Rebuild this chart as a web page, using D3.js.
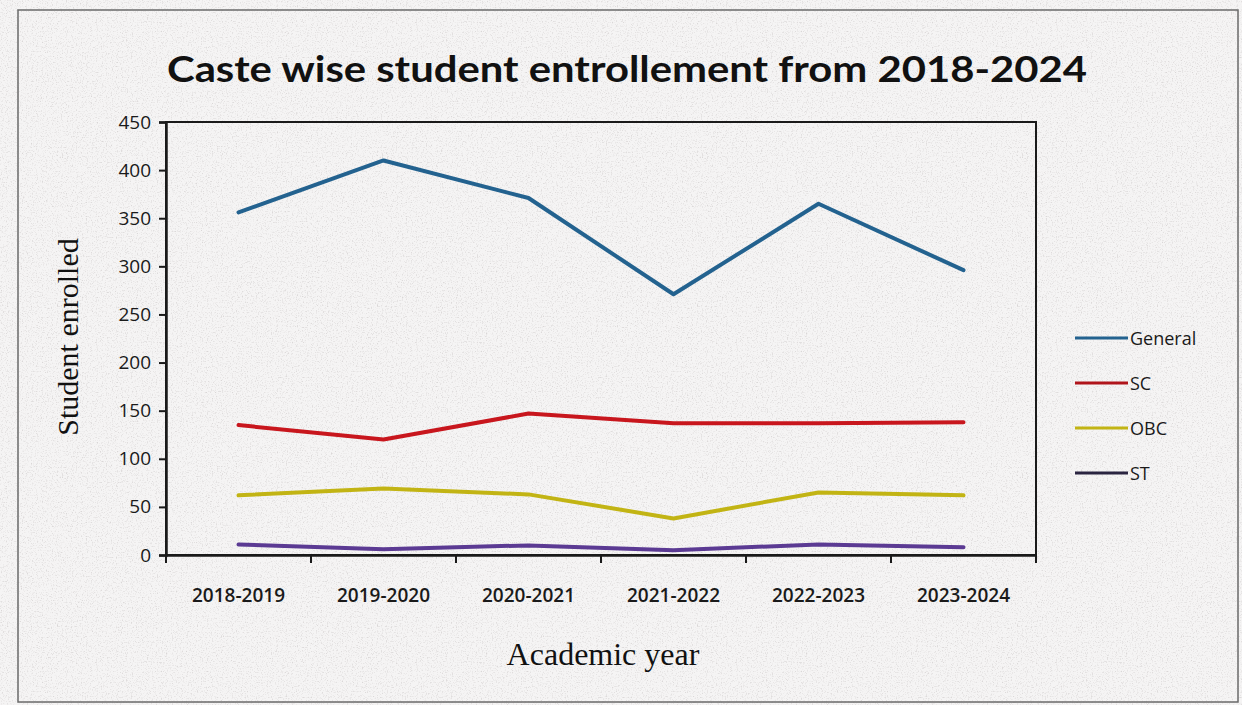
<!DOCTYPE html>
<html>
<head>
<meta charset="utf-8">
<script src="https://cdn.jsdelivr.net/npm/d3@7"></script>
<style>
  html, body { margin: 0; padding: 0; background: #f4f3f3; }
  svg { display: block; }
</style>
</head>
<body>
<svg id="chart" width="1242" height="705"></svg>
<script>
// Academic years on the x axis
const years = ["2018-2019", "2019-2020", "2020-2021", "2021-2022", "2022-2023", "2023-2024"];

// Enrolment per caste category
const general = [356, 410, 371, 271, 365, 296];
const sc      = [135, 120, 147, 137, 137, 138];
const obc     = [62, 69, 63, 38, 65, 62];
const st      = [11, 6, 10, 5, 11, 8];

const seriesNames = ["General", "SC", "OBC", "ST"];
const yTicks = [0, 50, 100, 150, 200, 250, 300, 350, 400, 450];

const series = [
  { name: seriesNames[0], values: general, color: "#23628f" },
  { name: seriesNames[1], values: sc,      color: "#c8161d" },
  { name: seriesNames[2], values: obc,     color: "#c2b414" },
  { name: seriesNames[3], values: st,      color: "#5b3a93" }
];

const svg = d3.select("#chart");
const W = 1242, H = 705;

// paper grain
const defs = svg.append("defs");
const f = defs.append("filter").attr("id", "grain").attr("x", 0).attr("y", 0).attr("width", "100%").attr("height", "100%");
f.append("feTurbulence").attr("type", "fractalNoise").attr("baseFrequency", 0.8).attr("numOctaves", 2).attr("seed", 4).attr("result", "n");
f.append("feColorMatrix").attr("in", "n").attr("type", "matrix")
  .attr("values", "0 0 0 0 0.45  0 0 0 0 0.42  0 0 0 0 0.42  0 0 0 -3 1.45");

svg.append("rect").attr("width", W).attr("height", H).attr("fill", "#f5f4f4");
svg.append("rect").attr("width", W).attr("height", H).attr("filter", "url(#grain)").attr("opacity", 0.4);

// outer chart frame
svg.append("rect")
  .attr("x", 18).attr("y", 10).attr("width", 1220).attr("height", 692)
  .attr("fill", "none").attr("stroke", "#6a6a6a").attr("stroke-width", 1.5);

const plot = { left: 166, right: 1036, top: 122, bottom: 555 };

const x = d3.scaleBand().domain(years).range([plot.left, plot.right]);
const y = d3.scaleLinear().domain([0, 450]).range([plot.bottom, plot.top]);

// plot box
svg.append("rect")
  .attr("x", plot.left).attr("y", plot.top)
  .attr("width", plot.right - plot.left).attr("height", plot.bottom - plot.top)
  .attr("fill", "none").attr("stroke", "#1a1a1a").attr("stroke-width", 2);

// y axis
const yAxis = svg.append("g")
  .attr("transform", `translate(${plot.left},0)`)
  .call(d3.axisLeft(y).tickValues(yTicks).tickSize(7).tickPadding(8));
yAxis.select(".domain").attr("stroke", "#1a1a1a").attr("stroke-width", 2.5);
yAxis.selectAll(".tick line").attr("stroke", "#1a1a1a").attr("stroke-width", 2);
yAxis.selectAll("text")
  .attr("font-family", "'Open Sans', sans-serif").attr("font-size", 19).attr("fill", "#1a1a1a");

// x axis: ticks at band boundaries
const xAxis = svg.append("g")
  .attr("transform", `translate(0,${plot.bottom})`)
  .call(d3.axisBottom(x).tickSize(0).tickPadding(34));
xAxis.select(".domain").attr("stroke", "#1a1a1a").attr("stroke-width", 2.5);
xAxis.selectAll("text")
  .attr("font-family", "'Open Sans', sans-serif").attr("font-size", 19)
  .attr("font-weight", 600).attr("fill", "#1a1a1a");
xAxis.selectAll(".bnd")
  .data(years)
  .enter().append("line")
  .attr("x1", d => x(d) + x.bandwidth())
  .attr("x2", d => x(d) + x.bandwidth())
  .attr("y1", 0).attr("y2", 8)
  .attr("stroke", "#1a1a1a").attr("stroke-width", 2);
xAxis.append("line").attr("x1", plot.left).attr("x2", plot.left).attr("y1", 0).attr("y2", 8)
  .attr("stroke", "#1a1a1a").attr("stroke-width", 2);

// series lines
const line = d3.line()
  .x((d, i) => x(years[i]) + x.bandwidth() / 2)
  .y(d => y(d));

svg.append("g").selectAll("path")
  .data(series)
  .enter().append("path")
  .attr("d", d => line(d.values))
  .attr("fill", "none")
  .attr("stroke", d => d.color)
  .attr("stroke-width", 4)
  .attr("stroke-linejoin", "round")
  .attr("stroke-linecap", "round");

// title
svg.append("text")
  .attr("x", 627).attr("y", 82)
  .attr("text-anchor", "middle")
  .attr("font-family", "Lato, sans-serif").attr("font-weight", 700)
  .attr("font-size", 36).attr("fill", "#111")
  .attr("textLength", 920).attr("lengthAdjust", "spacingAndGlyphs")
  .text("Caste wise student entrollement from 2018-2024");

// axis titles
svg.append("text")
  .attr("transform", `translate(78,337) rotate(-90)`)
  .attr("text-anchor", "middle")
  .attr("font-family", "'Liberation Serif', serif").attr("font-size", 30).attr("fill", "#111")
  .text("Student enrolled");

svg.append("text")
  .attr("x", 603).attr("y", 665)
  .attr("text-anchor", "middle")
  .attr("font-family", "'Liberation Serif', serif").attr("font-size", 32).attr("fill", "#111")
  .text("Academic year");

// legend
const legendColors = ["#23628f", "#b0141b", "#c2b414", "#2a2440"];
const legend = svg.append("g").attr("transform", "translate(1075,338)");
const li = legend.selectAll("g").data(series).enter().append("g")
  .attr("transform", (d, i) => `translate(0,${i * 45})`);
li.append("line").attr("x1", 0).attr("x2", 53).attr("y1", 0).attr("y2", 0)
  .attr("stroke", (d, i) => legendColors[i]).attr("stroke-width", 3);
li.append("text").attr("x", 55).attr("y", 7)
  .attr("font-family", "'Open Sans', sans-serif").attr("font-size", 18).attr("fill", "#1a1a1a")
  .text(d => d.name);
</script>
</body>
</html>
